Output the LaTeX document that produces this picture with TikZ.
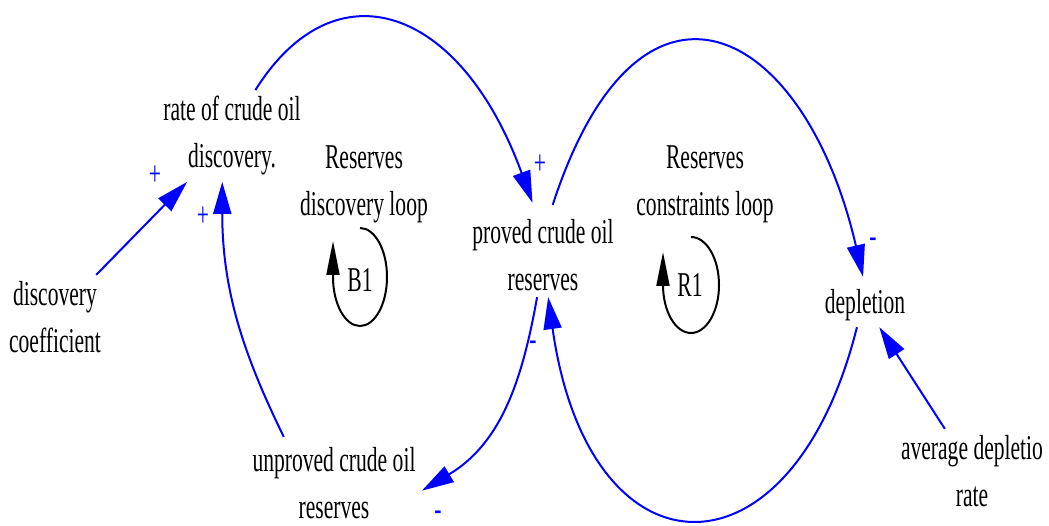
\documentclass[tikz,border=0pt]{standalone}
\usepackage{fontspec}
\setmainfont[FakeStretch=0.62]{Liberation Serif}
\usetikzlibrary{arrows.meta}

\begin{document}
\begin{tikzpicture}[x=0.5pt, y=0.5pt,
      var/.style={font=\fontsize{17.4}{23.5}\selectfont, align=center,
                  inner sep=3pt},
      sign/.style={font=\fontsize{17.4}{23.5}\selectfont, text=blue,
                   inner sep=0pt},
      link/.style={-{Triangle[length=16pt,width=9pt]}, blue, line width=1pt},
      looparc/.style={-{Triangle[length=17pt,width=6.5pt]}, line width=1pt}
  ]
    \useasboundingbox (0,0) rectangle (1049,525);
    % variables
    \node[var] (rate)     at (232,389) {rate of crude oil\\discovery.};
    \node[var] (dloop)    at (364,341) {Reserves\\discovery loop};
    \node[var] (proved)   at (543,270) {proved crude oil\\reserves};
    \node[var] (cloop)    at (705,341) {Reserves\\constraints loop};
    \node[var] (depl)     at (865,220) {depletion};
    \node[var] (coef)     at (55,208)  {discovery\\coefficient};
    \node[var] (unproved) at (334,42)  {unproved crude oil\\reserves};
    \node[var] (avgrate)  at (972,54)  {average depletio\\rate};
    % loop markers
    \node[var] (b1) at (360,245) {B1};
    \node[var] (r1) at (690,240) {R1};
    \draw[looparc] ([shift={(0,52)}]b1.center)
      arc[start angle=90, end angle=-180, x radius=27, y radius=49] -- ++(0,36);
    \draw[looparc] ([shift={(1,48)}]r1.center)
      arc[start angle=90, end angle=-180, x radius=28, y radius=48] -- ++(0,33);
    % links
    \draw[link] (coef) -- (rate);
    \draw[link] ([yshift=2pt]unproved.140) .. controls +(116:90) and +(-90:110) .. (rate.258);
    \draw[link] (rate.63) .. controls +(58:150) and +(110:210) .. ([yshift=5pt]proved.104);
    \draw[link] ([yshift=4pt]proved.77) .. controls +(72:280) and +(103:260) .. ([yshift=3pt]depl.95);
    \draw[link] (depl.250) .. controls +(256:270) and +(-82:290) .. (proved.277);
    \draw[link] (proved.262) .. controls +(260:90) and +(31:90) .. (unproved.355);
    \draw[link] (avgrate) -- (depl);
    % polarities
    \node[sign] (pA) at (155,349) {+};
    \node[sign] (pB) at (203,308) {+};
    \node[sign] (pC) at (540,360) {+};
    \node[sign] (pD) at (873,282) {-};
    \node[sign] (pE) at (533,179) {-};
    \node[sign] (pF) at (438,9)   {-};
\end{tikzpicture}
\end{document}
